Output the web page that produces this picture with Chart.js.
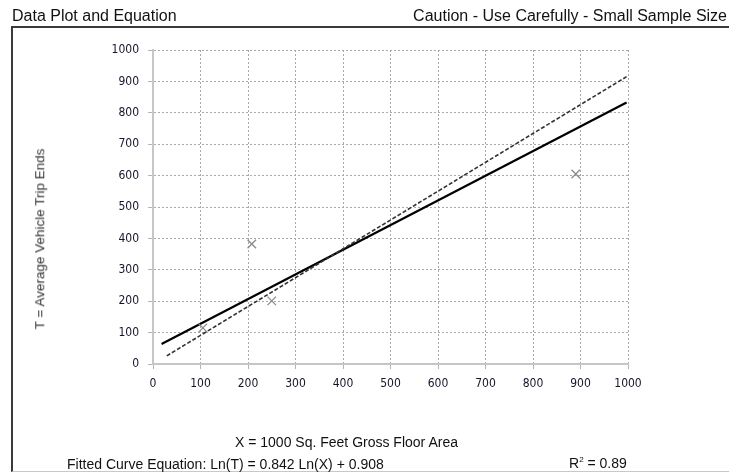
<!DOCTYPE html>
<html>
  <head>
    <meta charset="utf-8" />
    <script src="https://cdn.jsdelivr.net/npm/chart.js@4.4.0/dist/chart.umd.min.js"></script>
    <style>
      body { margin: 0; background: #fff; }
      #wrap { position: relative; width: 729px; height: 472px; overflow: hidden; font-family: "Liberation Sans", Arial, sans-serif; color: #111; }
      #myChart { position: absolute; left: 0; top: 0; }
      .txt { position: absolute; white-space: nowrap; line-height: 1; }
      #frame { position: absolute; left: 11px; top: 26px; width: 730px; height: 443px; border-top: 2px solid #3a3a3a; border-left: 2px solid #3a3a3a; border-bottom: 1px solid #c8c8c8; }
    </style>
  </head>
  <body>
    <div id="wrap">
      <div id="frame"></div>
      <canvas id="myChart" width="729" height="472"></canvas>
      <div class="txt" style="left:12px; top:8px; font-size:16px;">Data Plot and Equation</div>
      <div class="txt" style="right:2px; top:8px; font-size:16px;">Caution - Use Carefully - Small Sample Size</div>
      <div class="txt" style="left:40px; top:239px; font-size:13.5px; color:#333; transform: translate(-50%, -50%) rotate(-90deg);">T = Average Vehicle Trip Ends</div>
      <div class="txt" style="left:235px; top:435px; font-size:14px;">X = 1000 Sq. Feet Gross Floor Area</div>
      <div class="txt" style="left:67px; top:457px; font-size:14px;">Fitted Curve Equation: Ln(T) = 0.842 Ln(X) + 0.908</div>
      <div class="txt" style="left:569px; top:456px; font-size:14px;">R<sup style="font-size:8px; vertical-align: 6px;">2</sup> = 0.89</div>
    </div>

    <script>
      // study sites (X = 1000 sq ft GFA, T = trip ends)
      const siteX = [105, 208, 250, 890];
      const siteT = [115, 382, 201, 605];

      // fitted curve
      const fitX = [18, 997];
      const fitT = [64, 833];

      // average rate line
      const avgX = [29, 997];
      const avgT = [26, 915];

      const xTicks = [0, 100, 200, 300, 400, 500, 600, 700, 800, 900, 1000];
      const yTicks = [0, 100, 200, 300, 400, 500, 600, 700, 800, 900, 1000];

      const pts = (xs, ys) => xs.map((x, i) => ({ x: x, y: ys[i] }));

      const gridStyle = {
        color: "#a8a8a8",
        lineWidth: 1,
        tickLength: 5,
        tickColor: "#b4b4b4",
        tickBorderDash: [],
      };
      const borderStyle = { display: true, color: "#c6c6c6", width: 2, dash: [2, 2] };
      const tickFont = { family: "'DejaVu Sans Condensed', 'DejaVu Sans', sans-serif", size: 12 };

      const config = {
        type: "scatter",
        data: {
          datasets: [
            {
              label: "sites",
              data: pts(siteX, siteT),
              pointStyle: "crossRot",
              pointRadius: 6,
              pointBorderColor: "#8a8a8a",
              pointBorderWidth: 1.3,
              showLine: false,
            },
            {
              label: "average rate",
              data: pts(avgX, avgT),
              showLine: true,
              borderColor: "#333",
              borderWidth: 1.6,
              borderDash: [4, 2],
              pointRadius: 0,
            },
            {
              label: "fitted curve",
              data: pts(fitX, fitT),
              showLine: true,
              borderColor: "#000",
              borderWidth: 2.2,
              pointRadius: 0,
            },
          ],
        },
        options: {
          responsive: false,
          animation: false,
          layout: { padding: { left: 0, right: 101, top: 50, bottom: 0 } },
          plugins: { legend: { display: false }, tooltip: { enabled: false } },
          scales: {
            x: {
              type: "linear",
              min: 0,
              max: 1000,
              afterBuildTicks: (s) => { s.ticks = xTicks.map((v) => ({ value: v })); },
              afterFit: (s) => { s.height = 108; },
              grid: gridStyle,
              border: borderStyle,
              ticks: { color: "#15152a", font: tickFont, padding: 8, maxRotation: 0, callback: (v) => String(v) },
            },
            y: {
              type: "linear",
              min: 0,
              max: 1000,
              afterBuildTicks: (s) => { s.ticks = yTicks.map((v) => ({ value: v })); },
              afterFit: (s) => { s.width = 153; },
              grid: gridStyle,
              border: borderStyle,
              ticks: { color: "#15152a", font: tickFont, padding: 9, callback: (v) => String(v) },
            },
          },
        },
      };

      const myChart = new Chart(document.getElementById("myChart"), config);
    </script>
  </body>
</html>
